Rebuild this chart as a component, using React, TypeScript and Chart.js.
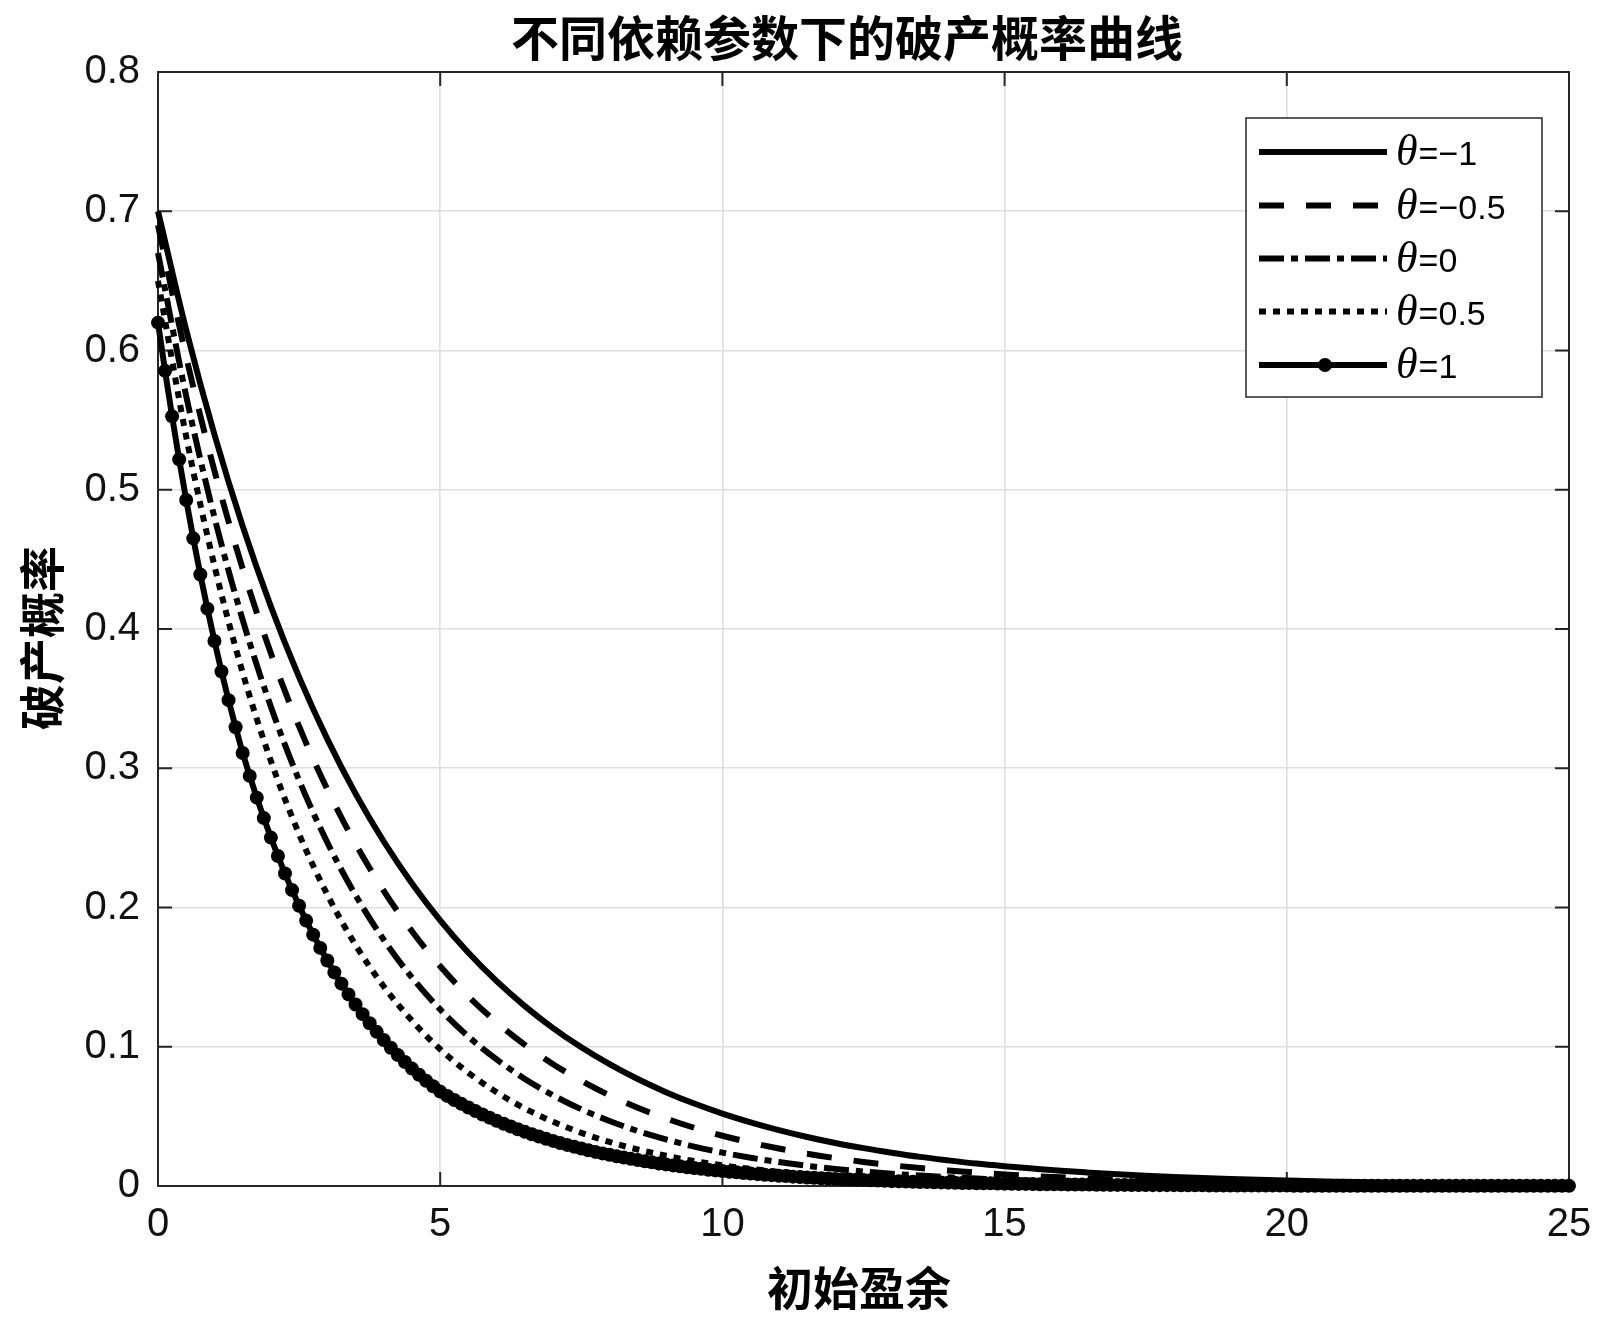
import React, { useEffect, useRef } from "react";
import { Chart, registerables } from "chart.js";

Chart.register(...registerables);

const TITLE = "不同依赖参数下的破产概率曲线";
const X_LABEL = "初始盈余";
const Y_LABEL = "破产概率";
const X_TICKS = [0, 5, 10, 15, 20, 25];
const Y_TICKS = [0, 0.1, 0.2, 0.3, 0.4, 0.5, 0.6, 0.7, 0.8];
const LABELS = ["θ=−1", "θ=−0.5", "θ=0", "θ=0.5", "θ=1"];

// initial surplus grid for the four plain curves
const U_COARSE = [
  0, 0.5, 1, 1.5, 2, 2.5, 3, 3.5, 4, 4.5, 5, 5.5, 6, 6.5, 7, 7.5, 8, 8.5, 9, 9.5,
  10, 10.5, 11, 11.5, 12, 12.5, 13, 13.5, 14, 14.5, 15, 15.5, 16, 16.5, 17, 17.5,
  18, 18.5, 19, 19.5, 20, 20.5, 21, 21.5, 22, 22.5, 23, 23.5, 24, 24.5, 25,
];

// θ = -1 (solid)
const PSI_M1 = [
  0.7, 0.6147, 0.5397, 0.4739, 0.4162, 0.3654, 0.3209, 0.2818, 0.2474, 0.2173,
  0.1908, 0.1675, 0.1471, 0.1292, 0.1134, 0.0996, 0.0875, 0.0768, 0.0674, 0.0592,
  0.052, 0.0457, 0.0401, 0.0352, 0.0309, 0.0272, 0.0239, 0.0209, 0.0184, 0.0161,
  0.0142, 0.0125, 0.0109, 0.0096, 0.0084, 0.0074, 0.0065, 0.0057, 0.005, 0.0044,
  0.0039, 0.0034, 0.003, 0.0026, 0.0023, 0.002, 0.0018, 0.0016, 0.0014, 0.0012, 0.0011,
];

// θ = -0.5 (dashed)
const PSI_M05 = [
  0.69, 0.5954, 0.5137, 0.4433, 0.3825, 0.33, 0.2848, 0.2457, 0.212, 0.1829,
  0.1578, 0.1362, 0.1175, 0.1014, 0.0875, 0.0755, 0.0651, 0.0562, 0.0485, 0.0418,
  0.0361, 0.0312, 0.0269, 0.0232, 0.02, 0.0173, 0.0149, 0.0129, 0.0111, 0.0096,
  0.0083, 0.0071, 0.0062, 0.0053, 0.0046, 0.004, 0.0034, 0.0029, 0.0025, 0.0022,
  0.0019, 0.0016, 0.0014, 0.0012, 0.001, 0.0009, 0.0008, 0.0007, 0.0006, 0.0005, 0.0004,
];

// θ = 0 (dash-dot)
const PSI_0 = [
  0.67, 0.5672, 0.4802, 0.4066, 0.3442, 0.2914, 0.2467, 0.2089, 0.1768, 0.1497,
  0.1268, 0.1073, 0.0909, 0.0769, 0.0651, 0.0551, 0.0467, 0.0395, 0.0335, 0.0283,
  0.024, 0.0203, 0.0172, 0.0145, 0.0123, 0.0104, 0.0088, 0.0075, 0.0063, 0.0054,
  0.0045, 0.0038, 0.0033, 0.0028, 0.0023, 0.002, 0.0017, 0.0014, 0.0012, 0.001,
  0.0009, 0.0007, 0.0006, 0.0005, 0.0004, 0.0004, 0.0003, 0.0003, 0.0002, 0.0002, 0.0002,
];

// θ = 0.5 (dotted)
const PSI_05 = [
  0.65, 0.5381, 0.4454, 0.3687, 0.3052, 0.2527, 0.2092, 0.1731, 0.1433, 0.1187,
  0.0982, 0.0813, 0.0673, 0.0557, 0.0461, 0.0382, 0.0316, 0.0262, 0.0217, 0.0179,
  0.0148, 0.0123, 0.0102, 0.0084, 0.007, 0.0058, 0.0048, 0.004, 0.0033, 0.0027,
  0.0022, 0.0019, 0.0015, 0.0013, 0.0011, 0.0009, 0.0007, 0.0006, 0.0005, 0.0004,
  0.0003, 0.0003, 0.0002, 0.0002, 0.0002, 0.0001, 0.0001, 0.0001, 0.0001, 0.0001, 0.0001,
];

// initial surplus grid for the marked curve
const U_FINE = [
  0, 0.125, 0.25, 0.375, 0.5, 0.625, 0.75, 0.875,
  1, 1.125, 1.25, 1.375, 1.5, 1.625, 1.75, 1.875,
  2, 2.125, 2.25, 2.375, 2.5, 2.625, 2.75, 2.875,
  3, 3.125, 3.25, 3.375, 3.5, 3.625, 3.75, 3.875,
  4, 4.125, 4.25, 4.375, 4.5, 4.625, 4.75, 4.875,
  5, 5.125, 5.25, 5.375, 5.5, 5.625, 5.75, 5.875,
  6, 6.125, 6.25, 6.375, 6.5, 6.625, 6.75, 6.875,
  7, 7.125, 7.25, 7.375, 7.5, 7.625, 7.75, 7.875,
  8, 8.125, 8.25, 8.375, 8.5, 8.625, 8.75, 8.875,
  9, 9.125, 9.25, 9.375, 9.5, 9.625, 9.75, 9.875,
  10, 10.125, 10.25, 10.375, 10.5, 10.625, 10.75, 10.875,
  11, 11.125, 11.25, 11.375, 11.5, 11.625, 11.75, 11.875,
  12, 12.125, 12.25, 12.375, 12.5, 12.625, 12.75, 12.875,
  13, 13.125, 13.25, 13.375, 13.5, 13.625, 13.75, 13.875,
  14, 14.125, 14.25, 14.375, 14.5, 14.625, 14.75, 14.875,
  15, 15.125, 15.25, 15.375, 15.5, 15.625, 15.75, 15.875,
  16, 16.125, 16.25, 16.375, 16.5, 16.625, 16.75, 16.875,
  17, 17.125, 17.25, 17.375, 17.5, 17.625, 17.75, 17.875,
  18, 18.125, 18.25, 18.375, 18.5, 18.625, 18.75, 18.875,
  19, 19.125, 19.25, 19.375, 19.5, 19.625, 19.75, 19.875,
  20, 20.125, 20.25, 20.375, 20.5, 20.625, 20.75, 20.875,
  21, 21.125, 21.25, 21.375, 21.5, 21.625, 21.75, 21.875,
  22, 22.125, 22.25, 22.375, 22.5, 22.625, 22.75, 22.875,
  23, 23.125, 23.25, 23.375, 23.5, 23.625, 23.75, 23.875,
  24, 24.125, 24.25, 24.375, 24.5, 24.625, 24.75, 24.875,
  25,
];

// θ = 1 (solid with dot markers)
const PSI_1 = [
  0.62, 0.5854, 0.5527, 0.5218, 0.4926, 0.4651, 0.4391, 0.4146,
  0.3914, 0.3695, 0.3489, 0.3294, 0.311, 0.2945, 0.2789, 0.2642,
  0.2502, 0.237, 0.2244, 0.2125, 0.2013, 0.1906, 0.1805, 0.171,
  0.1619, 0.1534, 0.1453, 0.1376, 0.1303, 0.1234, 0.1169, 0.1107,
  0.1048, 0.0993, 0.094, 0.089, 0.0843, 0.0799, 0.0756, 0.0716,
  0.0678, 0.0647, 0.0618, 0.059, 0.0564, 0.0538, 0.0514, 0.0491,
  0.0468, 0.0447, 0.0427, 0.0408, 0.0389, 0.0372, 0.0355, 0.0339,
  0.0324, 0.0309, 0.0295, 0.0282, 0.0269, 0.0257, 0.0245, 0.0234,
  0.0224, 0.0214, 0.0204, 0.0195, 0.0186, 0.0178, 0.017, 0.0162,
  0.0155, 0.0148, 0.0141, 0.0135, 0.0129, 0.0123, 0.0117, 0.0112,
  0.0107, 0.0102, 0.0098, 0.0093, 0.0089, 0.0085, 0.0081, 0.0078,
  0.0074, 0.0071, 0.0067, 0.0064, 0.0061, 0.0059, 0.0056, 0.0054,
  0.0051, 0.0049, 0.0047, 0.0045, 0.0043, 0.0041, 0.0039, 0.0037,
  0.0035, 0.0034, 0.0032, 0.0031, 0.0029, 0.0028, 0.0027, 0.0026,
  0.0024, 0.0023, 0.0022, 0.0021, 0.002, 0.0019, 0.0019, 0.0018,
  0.0017, 0.0016, 0.0015, 0.0015, 0.0014, 0.0013, 0.0013, 0.0012,
  0.0012, 0.0011, 0.0011, 0.001, 0.001, 0.0009, 0.0009, 0.0008,
  0.0008, 0.0008, 0.0007, 0.0007, 0.0007, 0.0006, 0.0006, 0.0006,
  0.0006, 0.0005, 0.0005, 0.0005, 0.0005, 0.0004, 0.0004, 0.0004,
  0.0004, 0.0004, 0.0004, 0.0003, 0.0003, 0.0003, 0.0003, 0.0003,
  0.0003, 0.0002, 0.0002, 0.0002, 0.0002, 0.0002, 0.0002, 0.0002,
  0.0002, 0.0002, 0.0002, 0.0002, 0.0002, 0.0001, 0.0001, 0.0001,
  0.0001, 0.0001, 0.0001, 0.0001, 0.0001, 0.0001, 0.0001, 0.0001,
  0.0001, 0.0001, 0.0001, 0.0001, 0.0001, 0.0001, 0.0001, 0.0001,
  0.0001, 0.0001, 0.0001, 0.0001, 0.0001, 0.0001, 0.0001, 0.0001,
  0.0001,
];

// styling (not data)
const LINE_W = 6;
const DASHES: number[][] = [[], [25, 22], [25, 7, 7, 7], [7, 7], []];
const MARKER_R = 7;
const TICK_FONT = '"Liberation Sans", Arial, sans-serif';
const CJK_FONT = '"Noto Sans CJK SC", "Noto Sans", sans-serif';
const AXIS_COLOR = "#262626";

const decor = {
  id: "decor",
  beforeDatasetsDraw(chart: any) {
    const { ctx, chartArea: a, scales } = chart;
    const x = scales.x;
    const y = scales.y;
    ctx.save();
    ctx.strokeStyle = AXIS_COLOR;
    ctx.lineWidth = 2;
    ctx.setLineDash([]);
    ctx.strokeRect(a.left, a.top, a.right - a.left, a.bottom - a.top);
    const L = 14;
    ctx.beginPath();
    for (const v of X_TICKS) {
      const px = x.getPixelForValue(v);
      ctx.moveTo(px, a.bottom);
      ctx.lineTo(px, a.bottom - L);
      ctx.moveTo(px, a.top);
      ctx.lineTo(px, a.top + L);
    }
    for (const v of Y_TICKS) {
      const py = y.getPixelForValue(v);
      ctx.moveTo(a.left, py);
      ctx.lineTo(a.left + L, py);
      ctx.moveTo(a.right, py);
      ctx.lineTo(a.right - L, py);
    }
    ctx.stroke();
    ctx.restore();
  },
  afterDraw(chart: any) {
    const { ctx } = chart;
    ctx.save();
    // titles
    ctx.fillStyle = "#000";
    ctx.textAlign = "center";
    ctx.textBaseline = "middle";
    ctx.font = `bold 48px ${CJK_FONT}`;
    ctx.fillText(TITLE, 847, 38);
    ctx.font = `bold 46px ${CJK_FONT}`;
    ctx.fillText(X_LABEL, 859, 1288);
    ctx.save();
    ctx.translate(42, 638);
    ctx.rotate(-Math.PI / 2);
    ctx.fillText(Y_LABEL, 0, 0);
    ctx.restore();

    // legend
    const bx = 1246, by = 118, bw = 296, bh = 279;
    ctx.fillStyle = "#fff";
    ctx.fillRect(bx, by, bw, bh);
    ctx.strokeStyle = AXIS_COLOR;
    ctx.lineWidth = 1.5;
    ctx.setLineDash([]);
    ctx.strokeRect(bx, by, bw, bh);
    const baselines = [165, 218.5, 271.5, 324.5, 378];
    chart.data.datasets.forEach((ds: any, i: number) => {
      const base = baselines[i];
      const ly = base - 13;
      ctx.strokeStyle = "#000";
      ctx.lineWidth = LINE_W;
      ctx.lineCap = "butt";
      ctx.setLineDash(DASHES[i]);
      ctx.beginPath();
      ctx.moveTo(1259, ly);
      ctx.lineTo(1387, ly);
      ctx.stroke();
      ctx.setLineDash([]);
      if (ds.pointRadius > 0) {
        ctx.fillStyle = "#000";
        ctx.beginPath();
        ctx.arc(1325, ly, MARKER_R, 0, Math.PI * 2);
        ctx.fill();
      }
      const label: string = ds.label;
      const sym = label.charAt(0);
      const rest = label.slice(1);
      ctx.fillStyle = "#000";
      ctx.textAlign = "left";
      ctx.textBaseline = "alphabetic";
      ctx.font = `italic 44px "Liberation Serif", "DejaVu Serif", serif`;
      ctx.fillText(sym, 1396, base);
      const w = ctx.measureText(sym).width;
      ctx.font = `34px ${TICK_FONT}`;
      ctx.fillText(rest, 1397 + w, base);
    });
    ctx.restore();
  },
};

export default function App() {
  const ref = useRef<HTMLCanvasElement>(null);
  useEffect(() => {
    const canvas = ref.current;
    if (!canvas) return;
    const plain = [PSI_M1, PSI_M05, PSI_0, PSI_05];
    const datasets: any[] = plain.map((vals, i) => ({
      label: LABELS[i],
      data: U_COARSE.map((u, j) => ({ x: u, y: vals[j] })),
      borderColor: "#000",
      backgroundColor: "#000",
      borderWidth: LINE_W,
      borderDash: DASHES[i],
      borderCapStyle: "butt",
      pointRadius: 0,
      pointHoverRadius: 0,
      cubicInterpolationMode: "monotone",
      fill: false,
      clip: false,
    }));
    datasets.push({
      label: LABELS[4],
      data: U_FINE.map((u, j) => ({ x: u, y: PSI_1[j] })),
      borderColor: "#000",
      backgroundColor: "#000",
      borderWidth: LINE_W,
      borderDash: DASHES[4],
      pointRadius: MARKER_R,
      pointHoverRadius: MARKER_R,
      pointBackgroundColor: "#000",
      pointBorderWidth: 0,
      fill: false,
      clip: false,
    });

    const tickCommon = {
      color: "#111",
      font: { family: TICK_FONT, size: 40 },
      autoSkip: false,
      maxRotation: 0,
    };
    const gridCommon = { color: "#dedede", lineWidth: 1.6, drawTicks: false };

    const chart = new Chart(canvas, {
      type: "line",
      data: { datasets },
      options: {
        responsive: false,
        animation: false,
        devicePixelRatio: 1,
        events: [],
        layout: { padding: { top: 72, right: 31, left: 0, bottom: 0 } },
        plugins: {
          legend: { display: false },
          title: { display: false },
          tooltip: { enabled: false },
        },
        scales: {
          x: {
            type: "linear",
            min: X_TICKS[0],
            max: X_TICKS[X_TICKS.length - 1],
            afterBuildTicks: (s: any) => {
              s.ticks = X_TICKS.map((v) => ({ value: v }));
            },
            afterFit: (s: any) => {
              s.height = 132;
              s.paddingLeft = 0;
              s.paddingRight = 0;
            },
            grid: gridCommon,
            border: { display: false },
            ticks: { ...tickCommon, padding: 15 },
          },
          y: {
            type: "linear",
            min: Y_TICKS[0],
            max: Y_TICKS[Y_TICKS.length - 1],
            afterBuildTicks: (s: any) => {
              s.ticks = Y_TICKS.map((v) => ({ value: v }));
            },
            afterFit: (s: any) => {
              s.width = 158;
              s.paddingTop = 0;
              s.paddingBottom = 0;
            },
            grid: gridCommon,
            border: { display: false },
            ticks: { ...tickCommon, padding: 18 },
          },
        },
      } as any,
      plugins: [decor],
    });
    return () => chart.destroy();
  }, []);

  return (
    <div
      style={{
        position: "absolute",
        left: 0,
        top: 0,
        width: 1600,
        height: 1318,
        background: "#fff",
      }}
    >
      <canvas ref={ref} width={1600} height={1318} style={{ display: "block" }} />
    </div>
  );
}
